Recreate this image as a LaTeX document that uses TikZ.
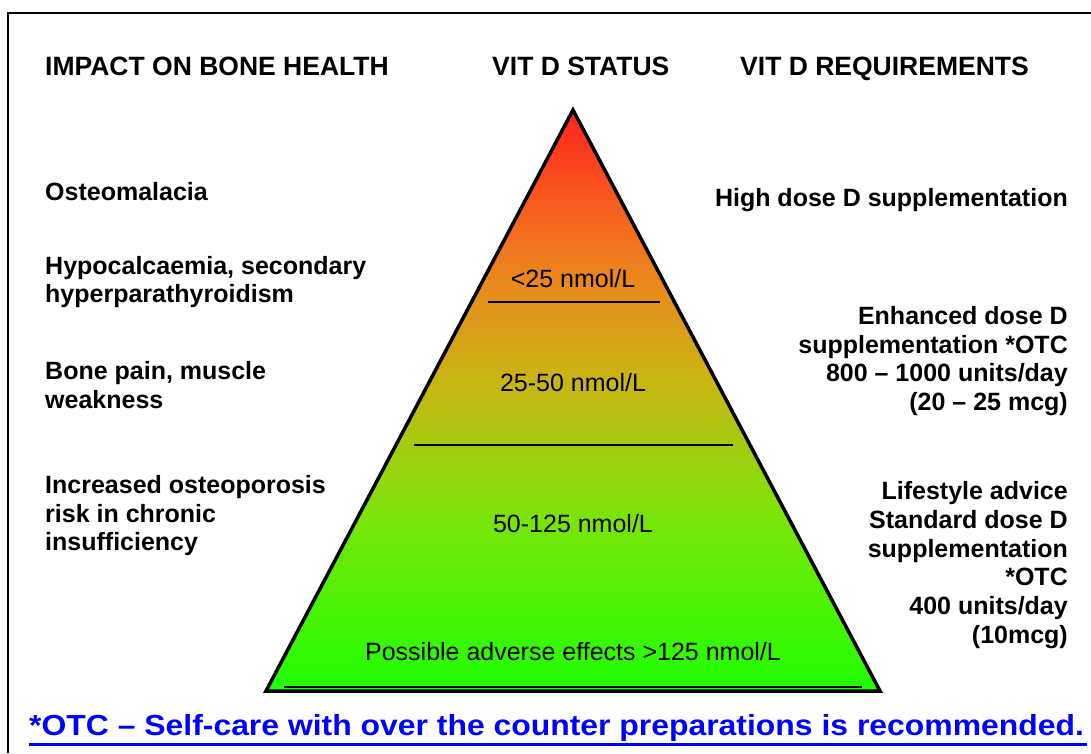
\documentclass[tikz,border=0pt]{standalone}
\usepackage{fontspec}
\setmainfont{Liberation Sans}
\newfontfamily\footfont[FakeStretch=1.1]{Liberation Sans}
\definecolor{otcblue}{RGB}{0,0,255}
\definecolor{gA}{RGB}{30,255,0}
\definecolor{gB}{RGB}{120,230,8}
\definecolor{gC}{RGB}{200,182,20}
\definecolor{gD}{RGB}{235,135,28}
\definecolor{gE}{RGB}{248,88,30}
\definecolor{gF}{RGB}{255,35,30}
\pgfdeclareverticalshading{pyr}{100bp}{color(0bp)=(gA); color(25bp)=(gA); color(39.5bp)=(gB); color(51.5bp)=(gC); color(60.5bp)=(gD); color(67.5bp)=(gE); color(75bp)=(gF); color(100bp)=(gF)}
\tikzset{
  head/.style={font=\fontsize{26.5}{30}\selectfont\bfseries, inner sep=0pt, anchor=base west},
  lefttxt/.style={font=\fontsize{25}{28.5}\selectfont\bfseries, inner sep=0pt, anchor=west, align=left},
  righttxt/.style={font=\fontsize{25}{28.8}\selectfont\bfseries, inner sep=0pt, anchor=east, align=right},
  lvl/.style={font=\fontsize{25}{28}\selectfont, inner sep=0pt},
  divider/.style={line width=1.6pt},
}
\begin{document}
\begin{tikzpicture}[x=1pt,y=-1pt]
\useasboundingbox (0,0) rectangle (1091,753);
% frame
\draw[line width=2pt] (8,753) -- (8,13) -- (1091,13);
% headers
\node[head] (h1) at (45,75) {IMPACT ON BONE HEALTH};
\node[head] (h2) at (492,75) {VIT D STATUS};
\node[head] (h3) at (740,75) {VIT D REQUIREMENTS};
% pyramid
\coordinate (apex) at (573,110);
\coordinate (bl) at (266,691);
\coordinate (br) at (880,691);
\shade[shading=pyr] (apex) -- (bl) -- (br) -- cycle;
\draw[line width=3.5pt, line join=miter] (apex) -- (bl) -- (br) -- cycle;
% dividers
\coordinate (d1a) at (488,302); \coordinate (d1b) at (660,302);
\coordinate (d2a) at (414,445); \coordinate (d2b) at (733,445);
\coordinate (d3a) at (284,687); \coordinate (d3b) at (862,687);
\draw[divider] (d1a) -- (d1b);
\draw[divider] (d2a) -- (d2b);
\draw[divider] (d3a) -- (d3b);
% level texts
\node[lvl] (s1) at (573,279) {<25 nmol/L};
\node[lvl] (s2) at (573,383) {25-50 nmol/L};
\node[lvl] (s3) at (573,524) {50-125 nmol/L};
\node[lvl] (s4) at (573,652) {Possible adverse effects >125 nmol/L};
% left texts
\node[lefttxt] (l1) at (45,192) {Osteomalacia};
\node[lefttxt] (l2) at (45,282) {Hypocalcaemia, secondary\\hyperparathyroidism};
\node[lefttxt] (l3) at (45,385) {Bone pain, muscle\\weakness};
\node[lefttxt] (l4) at (45,516) {Increased osteoporosis\\risk in chronic\\insufficiency};
% right texts
\node[righttxt] (r1) at (1068,200) {High dose D supplementation};
\node[righttxt] (r2) at (1068,361) {Enhanced dose D\\supplementation *OTC\\800 – 1000 units/day\\(20 – 25 mcg)};
\node[righttxt] (r3) at (1068,565) {Lifestyle advice\\Standard dose D\\supplementation\\*OTC\\400 units/day\\(10mcg)};
% footnote
\node[font=\fontsize{29}{32}\footfont\bfseries, text=otcblue, inner sep=0pt, anchor=west] (foot) at (29,728) {*OTC – Self-care with over the counter preparations is recommended.};
\coordinate (u1) at (29,744); \coordinate (u2) at (1087,744);
\draw[otcblue, line width=3pt] (u1) -- (u2);
\end{tikzpicture}
\end{document}
